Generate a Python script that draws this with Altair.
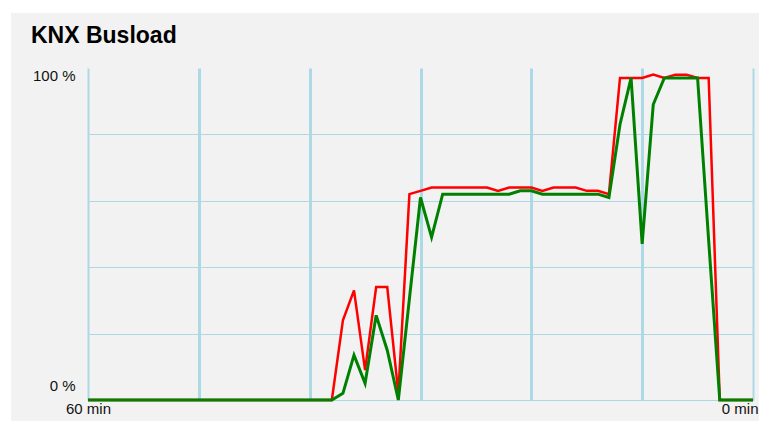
import altair as alt
import pandas as pd

# minutes ago (x axis runs from 60 min on the left to 0 min on the right)
minutes_ago = [60, 59, 58, 57, 56, 55, 54, 53, 52, 51, 50, 49, 48, 47, 46, 45, 44, 43, 42, 41,
               40, 39, 38, 37, 36, 35, 34, 33, 32, 31, 30, 29, 28, 27, 26, 25, 24, 23, 22, 21,
               20, 19, 18, 17, 16, 15, 14, 13, 12, 11, 10, 9, 8, 7, 6, 5, 4, 3, 2, 1, 0]

# red series (peak load, %)
red_load = [0, 0, 0, 0, 0, 0, 0, 0, 0, 0, 0, 0, 0, 0, 0, 0, 0, 0, 0, 0,
            0, 0, 0, 24, 33, 9, 34, 34, 2, 62, 63, 64, 64, 64, 64, 64, 64, 63, 64, 64,
            64, 63, 64, 64, 64, 63, 63, 62, 97, 97, 97, 98, 97, 98, 98, 97, 97, 0, 0, 0, 0]

# green series (average load, %)
green_load = [0, 0, 0, 0, 0, 0, 0, 0, 0, 0, 0, 0, 0, 0, 0, 0, 0, 0, 0, 0,
              0, 0, 0, 2, 13.5, 5, 25.5, 15, 0, 30.5, 61, 49, 62, 62, 62, 62, 62, 62, 62, 63,
              63, 62, 62, 62, 62, 62, 62, 61, 83, 97, 47, 89, 97, 97, 97, 97, 48, 0, 0, 0, 0]

x_ticks = [60, 50, 40, 30, 20, 10, 0]
y_ticks = [0, 20, 40, 60, 80, 100]
title_text = ["KNX Busload"]

df = pd.DataFrame({"min": minutes_ago, "red": red_load, "green": green_load})

FONT = "Liberation Sans"
GRID = "#add8e6"

x_enc = alt.X(
    "min:Q",
    scale=alt.Scale(domain=[60, 0], nice=False, zero=False),
    axis=alt.Axis(
        values=x_ticks,
        title=None,
        labelExpr="datum.value == 60 || datum.value == 0 ? datum.value + ' min' : ''",
        domain=False,
        ticks=False,
        tickSize=0,
        labelPadding=1,
        labelBaseline="top",
        labelAlign={"condition": {"test": "datum.value == 0", "value": "right"}, "value": "center"},
        labelOffset={"condition": {"test": "datum.value == 0", "value": 5}, "value": 0},
        labelFlush=False,
        labelOverlap=False,
        labelFont=FONT,
        labelFontSize=15,
        labelColor="#111111",
        grid=True,
        gridColor=GRID,
        gridOpacity=1,
        gridWidth={"condition": {"test": "datum.value == 0 || datum.value == 60", "value": 2}, "value": 3},
    ),
)

y_scale = alt.Scale(domain=[0, 100], nice=False, zero=True)
y_axis = alt.Axis(
    values=y_ticks,
    title=None,
    labelExpr="datum.value == 100 ? '100 %' : datum.value == 0 ? '0 %' : ''",
    domain=False,
    ticks=False,
    tickSize=0,
    labelPadding=13,
    labelBaseline="alphabetic",
    labelOffset={"condition": {"test": "datum.value == 100", "value": 12}, "value": -10},
    labelOverlap=False,
    labelFlush=False,
    labelFont=FONT,
    labelFontSize=15,
    labelColor="#111111",
    grid=True,
    gridColor=GRID,
    gridWidth=1.2,
    gridOpacity={"condition": {"test": "datum.value == 100", "value": 0}, "value": 1},
)

base = alt.Chart(df)

red_line = base.mark_line(color="#ff0000", strokeWidth=2.5).encode(
    x=x_enc, y=alt.Y("red:Q", scale=y_scale, axis=y_axis)
)
green_line = base.mark_line(color="#008000", strokeWidth=3).encode(
    x=x_enc, y=alt.Y("green:Q", scale=y_scale, axis=y_axis)
)

# white page strips outside the grey panel (left and top edges)
strip_df = pd.DataFrame({"k": [0]})
white_left = alt.Chart(strip_df).mark_rect(color="white").encode(
    x=alt.value(-82), x2=alt.value(-77), y=alt.value(-62), y2=alt.value(360)
)
white_top = alt.Chart(strip_df).mark_rect(color="white").encode(
    x=alt.value(-82), x2=alt.value(690), y=alt.value(-62), y2=alt.value(-55)
)

title = alt.Chart(pd.DataFrame({"t": title_text})).mark_text(
    font=FONT, fontSize=23, fontWeight="bold", color="#000000",
    align="left", baseline="alphabetic",
).encode(text="t:N", x=alt.value(-57), y=alt.value(-25))

chart = alt.layer(white_left, white_top, red_line, green_line, title).properties(
    width=665,
    height=332,
    padding={"left": 80, "top": 60, "right": 6, "bottom": 21},
    autosize=alt.AutoSizeParams(type="none"),
    background="#f2f2f2",
).configure_view(stroke=None)

chart.save("out.html", embed_options={"renderer": "svg", "actions": False})
